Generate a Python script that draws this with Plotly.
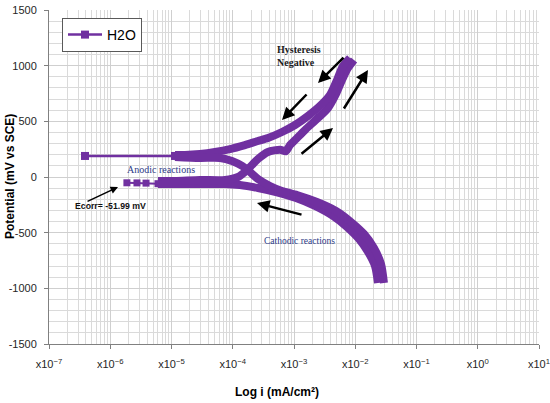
import plotly.graph_objects as go

PURPLE = "#7030A0"

# forward scan, cathodic branch (from -950 mV up to the Ecorr region)
cathodic_fwd_i = [2.35e-2, 2.10e-2, 1.62e-2, 1.15e-2, 7.33e-3, 4.33e-3, 2.20e-3, 1.08e-3,
                  5.08e-4, 2.58e-4, 1.31e-4, 7.47e-5, 2.92e-5, 1.14e-5, 6.02e-6]
cathodic_fwd_E = [-952, -799, -674, -557, -449, -350, -260, -189,
                  -135, -99, -72, -63, -63, -63, -63]

# sparse points around Ecorr
ecorr_i = [6.02e-6, 3.84e-6, 2.73e-6, 1.87e-6]
ecorr_E = [-60, -55, -53, -52]

# forward scan, anodic branch up to the vertex
anodic_fwd_i = [6.02e-6, 1.14e-5, 2.92e-5, 7.47e-5, 1.22e-4, 1.65e-4, 2.06e-4, 2.58e-4,
                3.76e-4, 5.91e-4, 7.40e-4, 8.61e-4, 1.04e-3, 1.51e-3, 2.47e-3, 3.59e-3,
                4.85e-3, 6.08e-3, 7.61e-3, 9.54e-3]
anodic_fwd_E = [-36, -36, -27, -27, 0, 54, 108, 162,
                225, 245, 232, 287, 332, 422, 530, 620,
                746, 871, 979, 1051]

# reverse scan, upper part
reverse_up_i = [8.21e-3, 6.31e-3, 5.04e-3, 3.87e-3, 2.66e-3, 1.69e-3, 1.04e-3, 6.37e-4,
                3.76e-4, 2.58e-4, 1.58e-4, 9.02e-5, 5.13e-5, 2.92e-5, 1.66e-5, 1.14e-5]
reverse_up_E = [1069, 997, 871, 737, 638, 548, 467, 404,
                350, 323, 287, 251, 225, 207, 198, 198]

# reverse scan, jump to the low-current point
reverse_tail_i = [1.14e-5, 3.87e-7]
reverse_tail_E = [189, 189]

# reverse scan, lower part back into the cathodic region
reverse_low_i = [1.14e-5, 2.92e-5, 6.19e-5, 9.72e-5, 1.42e-4, 1.91e-4, 2.58e-4, 4.06e-4,
                 6.37e-4, 1.12e-3, 2.37e-3, 4.85e-3, 8.52e-3, 1.39e-2, 2.02e-2, 2.63e-2, 2.94e-2]
reverse_low_E = [180, 171, 171, 144, 99, 45, -18, -81,
                 -126, -162, -225, -305, -404, -512, -638, -781, -952]

x_ticks = [1e-7, 1e-6, 1e-5, 1e-4, 1e-3, 1e-2, 1e-1, 1e0, 1e1]
x_tick_labels = ["x10<sup>\u22127</sup>", "x10<sup>\u22126</sup>", "x10<sup>\u22125</sup>",
                 "x10<sup>\u22124</sup>", "x10<sup>\u22123</sup>", "x10<sup>\u22122</sup>",
                 "x10<sup>\u22121</sup>", "x10<sup>0</sup>", "x10<sup>1</sup>"]
y_ticks = [-1500, -1000, -500, 0, 500, 1000, 1500]
y_tick_labels = ["-1500", "-1000", "-500", "0", "500", "1000", "1500"]

fig = go.Figure()

thick = [(cathodic_fwd_i, cathodic_fwd_E), (anodic_fwd_i, anodic_fwd_E),
         (reverse_up_i, reverse_up_E), (reverse_low_i, reverse_low_E)]
for xs, ys in thick:
    fig.add_trace(go.Scatter(x=xs, y=ys, mode="lines", showlegend=False,
                             line=dict(color=PURPLE, width=8, shape="spline", smoothing=0.7)))

fig.add_trace(go.Scatter(x=ecorr_i, y=ecorr_E, mode="lines+markers", showlegend=False,
                         line=dict(color=PURPLE, width=2),
                         marker=dict(symbol="square", size=7, color=PURPLE)))
fig.add_trace(go.Scatter(x=reverse_tail_i, y=reverse_tail_E, mode="lines+markers", name="H2O",
                         line=dict(color=PURPLE, width=2.5),
                         marker=dict(symbol="square", size=8, color=PURPLE)))

serif = "Liberation Serif"
sans = "Liberation Sans"
notes = [
    dict(x=-3.31, y=1087, text="<b>Hysteresis<br>Negative</b>", xanchor="left", align="left",
         font=dict(family=serif, size=10, color="#1a1a1a")),
    dict(x=-5.171, y=63, text="Anodic reactions", font=dict(family=serif, size=10, color="#2E3A87")),
    dict(x=-2.918, y=-575, text="Cathodic reactions", font=dict(family=serif, size=9.5, color="#2E3A87")),
    dict(x=-6.004, y=-260, text="<b>Ecorr= -51.99 mV</b>", font=dict(family=sans, size=8.7, color="#111")),
]
for n in notes:
    fig.add_annotation(xref="x", yref="y", showarrow=False, **n)

arrows = [
    (-5.873, -90, -32, 15, 1.5),
    (-3.604, -234, 46, 12, 2.5),
    (-2.608, 844, 27, -27, 2.5),
    (-3.196, 512, 26, -27, 2.5),
    (-2.363, 440, -33, 27, 2.5),
    (-1.792, 961, -25, 40, 2.5),
]
for hx, hy, ax, ay, w in arrows:
    fig.add_annotation(x=hx, y=hy, xref="x", yref="y", text="", showarrow=True,
                       ax=ax, ay=ay, axref="pixel", ayref="pixel",
                       arrowhead=2, arrowsize=1, arrowwidth=w, arrowcolor="black", standoff=0)

fig.add_annotation(xref="paper", yref="paper", x=(277 - 49) / 490, y=-(392 - 344) / 334,
                   text="<b>Log i (mA/cm\u00b2)</b>", showarrow=False, yanchor="middle",
                   font=dict(family=sans, size=12, color="black"))
fig.add_annotation(xref="paper", yref="paper", x=-(49 - 10) / 490, y=0.5,
                   text="<b>Potential (mV vs SCE)</b>", showarrow=False, textangle=-90,
                   xanchor="center", font=dict(family=sans, size=12, color="black"))

fig.update_xaxes(type="log", range=[-7, 1], tickvals=x_ticks, ticktext=x_tick_labels,
                 showgrid=True, gridcolor="#cfcfcf", gridwidth=1,
                 minor=dict(dtick="D1", showgrid=True, gridcolor="#dadada", gridwidth=1),
                 showline=True, linecolor="#808080", linewidth=1, automargin=False,
                 ticks="outside", ticklen=4, tickcolor="#808080", ticklabelstandoff=6,
                 ticklabeloverflow="allow",
                 zeroline=False, tickfont=dict(family=sans, size=11, color="#262626"))
fig.update_yaxes(range=[-1500, 1500], tickvals=y_ticks, ticktext=y_tick_labels,
                 showgrid=True, gridcolor="#cfcfcf", gridwidth=1,
                 minor=dict(dtick=100, showgrid=True, gridcolor="#dadada", gridwidth=1),
                 showline=True, linecolor="#808080", linewidth=1, automargin=False,
                 ticks="outside", ticklen=4, tickcolor="#808080", ticklabelstandoff=5,
                 zeroline=False, tickfont=dict(family=sans, size=11, color="#262626"))

fig.update_layout(
    width=550, height=403, autosize=False,
    margin=dict(l=49, r=11, t=10, b=59),
    paper_bgcolor="white", plot_bgcolor="white",
    font=dict(family=sans),
    legend=dict(x=(62 - 49) / 490, y=1 - (18 - 10) / 334, xanchor="left", yanchor="top",
                bgcolor="white", bordercolor="#595959", borderwidth=1,
                font=dict(family=sans, size=14, color="black"), itemwidth=34,
                tracegroupgap=0),
)

# the page body has a default 8px margin; drop it so the figure sits at the corner
fig.write_html("out.html", config={"displayModeBar": False},
               post_script="document.body.style.margin='0px';")
